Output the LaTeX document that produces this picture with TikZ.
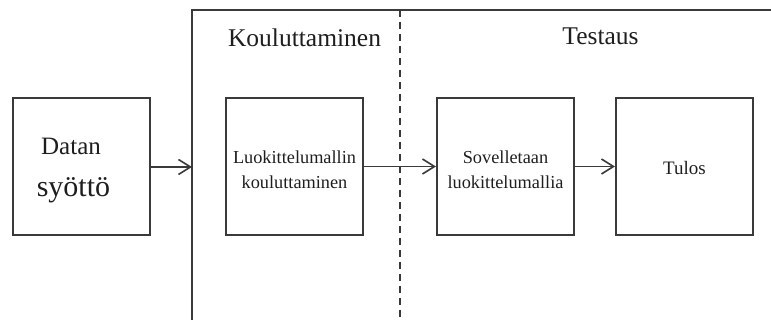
\documentclass[tikz,border=0pt]{standalone}
\usepackage{fontspec}
\setmainfont{Liberation Serif}
\usetikzlibrary{arrows.meta}
\definecolor{linegray}{HTML}{3A3A3A}
\definecolor{inkgray}{HTML}{1E1E1E}
\begin{document}
\begin{tikzpicture}[x=1pt,y=-1pt,
  stagebox/.style={draw=linegray,line width=2.1pt,minimum width=137pt,minimum height=137pt,inner sep=0pt},
  boxtext/.style={text=inkgray,align=center,inner sep=0pt,font=\fontsize{18.3}{25}\selectfont},
  headtext/.style={text=inkgray,anchor=base,inner sep=0pt,font=\fontsize{25.5}{30}\selectfont},
  flow/.style={draw=linegray,line width=1.6pt,-{Straight Barb[length=12pt,width=15pt,line width=1.6pt]}},
  framel/.style={draw=linegray,line width=1.9pt},
  divider/.style={draw=linegray,line width=1.8pt,dash pattern=on 7pt off 5pt}]
\useasboundingbox (0,0) rectangle (771,320);

% processing frame, open at the bottom and on the right
\coordinate (ftop) at (192,10);
\coordinate (fbot) at (192,320);
\coordinate (fright) at (771,10);
\coordinate (fin) at (192,167);
\draw[framel] (fbot) -- (ftop) -- (fright);

% dashed split between training and testing
\coordinate (dtop) at (400,10);
\coordinate (dbot) at (400,320);
\draw[divider] (dtop) -- (dbot);

% section headings
\node[headtext] (train) at (304.5,47) {Kouluttaminen};
\node[headtext] (test) at (600.5,45) {Testaus};

% stage boxes
\node[stagebox] (input) at (81.5,166.5) {};
\node[stagebox] (fit) at (294.5,166.5) {};
\node[stagebox] (apply) at (505.5,166.5) {};
\node[stagebox] (result) at (684.5,166.5) {};

% labels inside the boxes
\node[text=inkgray,anchor=base,inner sep=0pt,font=\fontsize{25}{30}\selectfont] (inA) at (71,155) {Datan};
\node[text=inkgray,anchor=base,inner sep=0pt,font=\fontsize{30}{36}\selectfont] (inB) at (73.5,197) {syöttö};
\node[boxtext] (fitT) at (294.5,169.5) {Luokittelumallin\\kouluttaminen};
\node[boxtext] (applyT) at (505.5,169.5) {Sovelletaan\\luokittelumallia};
\node[text=inkgray,anchor=base,inner sep=0pt,font=\fontsize{19}{24}\selectfont] (resultT) at (684.5,175) {Tulos};

% connectors
\draw[flow] (input.east |- fin) -- (fin);
\draw[flow] (fit.east) -- (apply.west);
\draw[flow] (apply.east) -- (result.west);
\end{tikzpicture}
\end{document}
